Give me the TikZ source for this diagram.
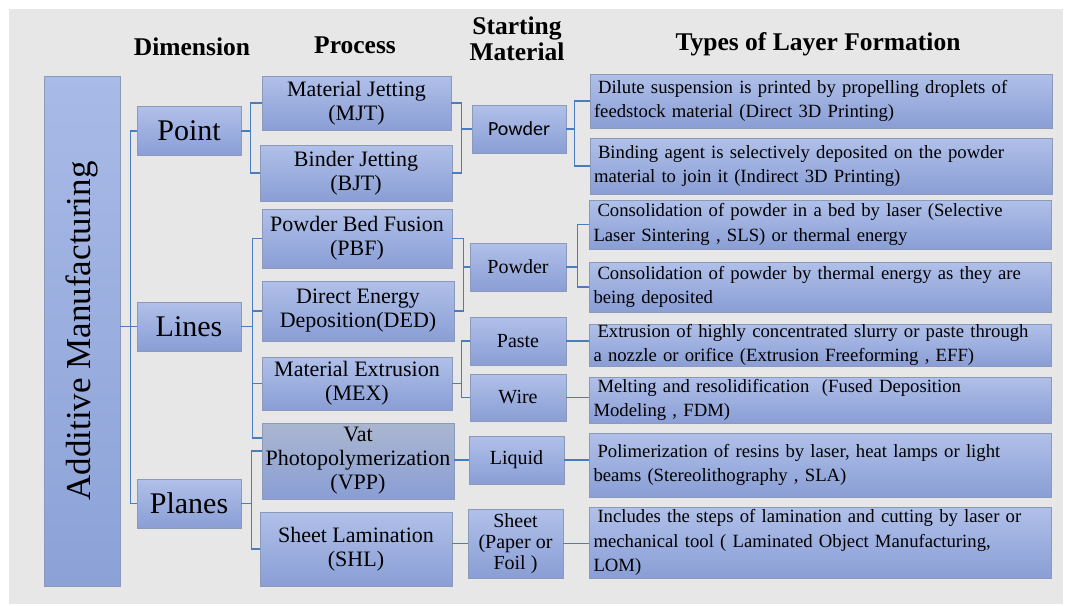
\documentclass[tikz,border=0pt]{standalone}
\usepackage{fontspec}
\setmainfont{Liberation Serif}
\newfontfamily\carlito{Carlito}
\definecolor{bg}{HTML}{E8E7E8}
\definecolor{boxtop}{HTML}{B0C0E9}
\definecolor{boxbot}{HTML}{8A9ED5}
\definecolor{amleft}{HTML}{A8BAE7}
\definecolor{amright}{HTML}{8CA2D7}
\definecolor{vpptop}{HTML}{AAB6CF}
\definecolor{boxline}{HTML}{8C99B8}
\definecolor{conn}{HTML}{4A7CC0}
\begin{document}
\begin{tikzpicture}[x=1pt,y=-1pt,
  box/.style={draw=boxline, line width=0.7pt, top color=boxtop, bottom color=boxbot, inner sep=0pt, align=center},
  proc/.style={box, font=\fontsize{22}{24}\selectfont},
  dimbox/.style={box, minimum width=104, minimum height=49, font=\fontsize{30}{32}\selectfont},
  mat/.style={box, font=\fontsize{20}{21}\selectfont},
  typ/.style={box, minimum width=462, text width=454, align=left, font=\fontsize{18.7}{24.5}\selectfont},
  hdr/.style={font=\bfseries\fontsize{25.5}{26}\selectfont, anchor=base, inner sep=0pt},
  con/.style={draw=conn, line width=1.1pt}]
\useasboundingbox (0,0) rectangle (1070,605);
\fill[bg] (9,9) rectangle (1063,604);

% headers
\node[hdr] (hdim) at (192,55) {Dimension};
\node[hdr] (hproc) at (355,53) {Process};
\node[hdr, anchor=center, align=center] (hstart) at (517,38.5) {Starting\\Material};
\node[hdr] (htypes) at (818,50.5) {Types of Layer Formation};

% root
\node[box, minimum width=510, minimum height=76, rotate=90, top color=amleft, bottom color=amright,
      font=\fontsize{35}{36}\selectfont] (am) at (82,331) {Additive Manufacturing};

% dimensions
\node[dimbox] (point) at (189,131) {Point};
\node[dimbox] (lines) at (189,326.5) {Lines};
\node[dimbox] (planes) at (189,503.5) {Planes};

% processes
\node[proc, minimum width=189, minimum height=54] (mjt) at (356.5,103) {Material Jetting\\(MJT)};
\node[proc, minimum width=192, minimum height=56] (bjt) at (356,173) {Binder Jetting\\(BJT)};
\node[proc, minimum width=190, minimum height=59] (pbf) at (357,238.5) {Powder Bed Fusion\\(PBF)};
\node[proc, minimum width=192, minimum height=60] (ded) at (358,311) {Direct Energy\\Deposition(DED)};
\node[proc, minimum width=190, minimum height=53] (mex) at (357,383.5) {Material Extrusion\\(MEX)};
\node[proc, minimum width=192, minimum height=76, top color=vpptop] (vpp) at (358,461) {Vat\\Photopolymerization\\(VPP)};
\node[proc, minimum width=192, minimum height=74] (shl) at (356,549) {Sheet Lamination\\(SHL)};

% starting materials
\node[mat, minimum width=94, minimum height=48, font=\carlito\fontsize{20}{21}\selectfont] (pow1) at (519,129) {Powder};
\node[mat, minimum width=96, minimum height=48] (pow2) at (518,267) {Powder};
\node[mat, minimum width=96, minimum height=48] (paste) at (518,341) {Paste};
\node[mat, minimum width=96, minimum height=47] (wire) at (518,397.5) {Wire};
\node[mat, minimum width=95, minimum height=48] (liquid) at (516.5,460) {Liquid};
\node[mat, minimum width=95, minimum height=69] (sheet) at (515.5,543.5) {Sheet\\(Paper or\\Foil )};

% types
\node[typ, minimum height=54] (t1) at (821,101) {\hspace*{4pt}Dilute suspension is printed by propelling droplets of\\feedstock material (Direct 3D Printing)};
\node[typ, minimum height=56] (t2) at (821,166) {\hspace*{4pt}Binding agent is selectively deposited on the powder\\material to join it (Indirect 3D Printing)};
\node[typ, minimum height=49] (t3) at (820.5,224.5) {\hspace*{4pt}Consolidation of powder in a bed by laser (Selective\\Laser Sintering , SLS) or thermal energy};
\node[typ, minimum height=50] (t4) at (820.5,287) {\hspace*{4pt}Consolidation of powder by thermal energy as they are\\being deposited};
\node[typ, minimum height=42] (t5) at (820.5,345) {\hspace*{4pt}Extrusion of highly concentrated slurry or paste through\\a nozzle or orifice (Extrusion Freeforming , EFF)};
\node[typ, minimum height=46] (t6) at (820.5,400) {\hspace*{4pt}Melting and resolidification \ (Fused Deposition\\Modeling , FDM)};
\node[typ, minimum height=64] (t7) at (820.5,465) {\hspace*{4pt}Polimerization of resins by laser, heat lamps or light\\beams (Stereolithography , SLA)};
\node[typ, minimum height=71] (t8) at (820.5,542.5) {\hspace*{4pt}Includes the steps of lamination and cutting by laser or\\mechanical tool ( Laminated Object Manufacturing,\\LOM)};

% connectors: root -> dimensions
\draw[con] (am.south |- lines.west) -- (lines.west);
\draw[con] (point.west) -- ++(-6,0) |- (planes.west);

% point -> MJT, BJT
\draw[con] (point.east) -- ++(10,0);
\draw[con] (mjt.west) -- ++(-11,0) |- (bjt.west);

% lines -> PBF, DED, MEX, VPP
\coordinate (vppL) at ([yshift=23pt]vpp.west);
\coordinate (vppP) at ([yshift=10pt]vpp.west);
\draw[con] (lines.east) -- ++(12,0);
\draw[con] (pbf.west) -- ++(-9,0) |- (vppL);
\draw[con] (ded.west) -- ++(-9,0);
\draw[con] (mex.west) -- ++(-9,0);

% planes -> VPP, SHL
\draw[con] (planes.east) -- ++(11,0);
\draw[con] (vppP) -- ++(-10,0) |- (shl.west);

% processes -> materials
\draw[con] (mjt.east) -- ++(10.5,0) |- (bjt.east);
\draw[con] (pow1.west) -- ++(-10.5,0);
\draw[con] (pbf.east) -- ++(11,0) |- (ded.east);
\draw[con] (pow2.west) -- ++(-7,0);
\draw[con] (paste.west) -- ++(-8.3,0) |- (wire.west);
\draw[con] (mex.east) -- ++(9.7,0);
\draw[con] (vpp.east |- liquid.west) -- (liquid.west);
\draw[con] (shl.east |- sheet.west) -- (sheet.west);

% materials -> types
\draw[con] (pow1.east) -- ++(9,0);
\draw[con] (t1.west) -- ++(-15,0) |- (t2.west);
\draw[con] (pow2.east) -- ++(11,0);
\draw[con] (t3.west) -- ++(-12,0) |- (t4.west);
\draw[con] (paste.east) -- (paste.east -| t5.west);
\draw[con] (wire.east) -- (wire.east -| t6.west);
\draw[con] (liquid.east) -- (liquid.east -| t7.west);
\draw[con] (sheet.east) -- (sheet.east -| t8.west);
\end{tikzpicture}
\end{document}
